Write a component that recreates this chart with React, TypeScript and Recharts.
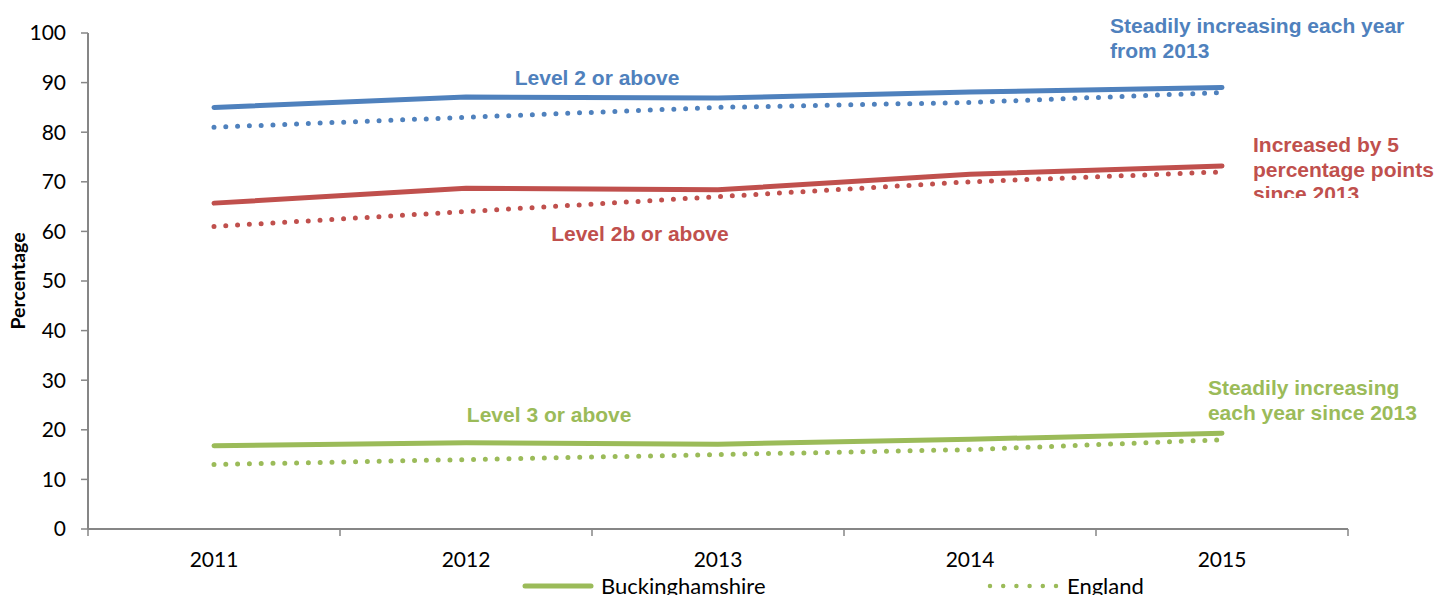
import React from "react";
import { LineChart, Line, XAxis, YAxis, Legend, ReferenceDot } from "recharts";

// Attainment at each level, Buckinghamshire vs England (% of pupils)
const YEARS = [2011, 2012, 2013, 2014, 2015];
const BUCKS_LEVEL2 = [85, 87.1, 86.9, 88.1, 89];
const ENGLAND_LEVEL2 = [81, 83, 85, 86, 88];
const BUCKS_LEVEL2B = [65.7, 68.7, 68.4, 71.5, 73.2];
const ENGLAND_LEVEL2B = [61, 64, 67, 70, 72];
const BUCKS_LEVEL3 = [16.8, 17.4, 17.1, 18.1, 19.3];
const ENGLAND_LEVEL3 = [13, 14, 15, 16, 18];

const Y_TICKS = [0, 10, 20, 30, 40, 50, 60, 70, 80, 90, 100];
// year labels sit mid-band; tick marks fall on the band edges
const X_TICKS = [2010.5, 2011, 2011.5, 2012, 2012.5, 2013, 2013.5, 2014, 2014.5, 2015, 2015.5];
const LEGEND_LABELS = ["Buckinghamshire", "England"];

const BLUE = "#4F81BD";
const RED = "#C0504D";
const GREEN = "#9BBB59";
const AXIS = "#868686";
const BODY_FONT = "Lato, 'Liberation Sans', Arial, sans-serif";
const NOTE_FONT = "'Liberation Sans', Arial, sans-serif";
const DOTTED = "0 11.8";

const data = YEARS.map((year, i) => ({
  year,
  bucksL2: BUCKS_LEVEL2[i],
  engL2: ENGLAND_LEVEL2[i],
  bucksL2b: BUCKS_LEVEL2B[i],
  engL2b: ENGLAND_LEVEL2B[i],
  bucksL3: BUCKS_LEVEL3[i],
  engL3: ENGLAND_LEVEL3[i],
}));

type Note = {
  id: string;
  x: number;
  y: number;
  lines: string[];
  color: string;
  anchor: "start" | "middle";
  clipBelow?: number;
};

const NOTES: Note[] = [
  { id: "l2", x: 2012.52, y: 89.5, lines: ["Level 2 or above"], color: BLUE, anchor: "middle" },
  { id: "l2b", x: 2012.69, y: 58.1, lines: ["Level 2b or above"], color: RED, anchor: "middle" },
  { id: "l3", x: 2012.33, y: 21.6, lines: ["Level 3 or above"], color: GREEN, anchor: "middle" },
  {
    id: "l2note",
    x: 2014.556,
    y: 100,
    lines: ["Steadily increasing each year", "from 2013"],
    color: BLUE,
    anchor: "start",
  },
  {
    id: "l2bnote",
    x: 2015.123,
    y: 76,
    lines: ["Increased by 5", "percentage points", "since 2013"],
    color: RED,
    anchor: "start",
    clipBelow: 46,
  },
  {
    id: "l3note",
    x: 2014.944,
    y: 27,
    lines: ["Steadily increasing", "each year since 2013"],
    color: GREEN,
    anchor: "start",
  },
];

function noteContent(note: Note) {
  return (props: any) => {
    const vb = props.viewBox || {};
    const x = vb.x + (vb.width || 0) / 2;
    const y = vb.y + (vb.height || 0) / 2;
    const clipId = `clip-${note.id}`;
    return (
      <g>
        {note.clipBelow != null && (
          <defs>
            <clipPath id={clipId}>
              <rect x={x - 10} y={y - 40} width={300} height={40 + note.clipBelow} />
            </clipPath>
          </defs>
        )}
        <text
          x={x}
          y={y}
          textAnchor={note.anchor}
          fill={note.color}
          fontFamily={NOTE_FONT}
          fontWeight="bold"
          fontSize={21}
          clipPath={note.clipBelow != null ? `url(#${clipId})` : undefined}
        >
          {note.lines.map((line, i) => (
            <tspan key={i} x={x} dy={i === 0 ? 0 : 24.5}>
              {line}
            </tspan>
          ))}
        </text>
      </g>
    );
  };
}

function YearTick(props: any) {
  const { x, y, payload } = props;
  const v = payload.value;
  if (!Number.isInteger(v)) {
    return <line x1={x} x2={x} y1={y} y2={y + 7} stroke={AXIS} strokeWidth={1.5} />;
  }
  return (
    <text x={x} y={y + 38} textAnchor="middle" fontSize={21} fill="#000" fontFamily={BODY_FONT}>
      {v}
    </text>
  );
}

function PercentLabel(props: any) {
  const vb = props.viewBox || { x: 0, y: 33, height: 496 };
  const cx = vb.x + 25;
  const cy = vb.y + vb.height / 2;
  return (
    <text
      x={cx}
      y={cy}
      transform={`rotate(-90 ${cx} ${cy})`}
      textAnchor="middle"
      fontFamily={BODY_FONT}
      fontWeight="bold"
      fontSize={19.5}
      fill="#000"
    >
      Percentage
    </text>
  );
}

function renderLegend() {
  return (
    <div style={{ height: 22, position: "relative" }}>
      <svg width={1438} height={22} style={{ display: "block", overflow: "visible" }}>
        <line x1={525} x2={591} y1={13} y2={13} stroke={GREEN} strokeWidth={5} strokeLinecap="round" />
        <text x={601} y={21} fontSize={22} fontFamily={BODY_FONT} fill="#000">
          {LEGEND_LABELS[0]}
        </text>
        <line
          x1={990}
          x2={1056.5}
          y1={13}
          y2={13}
          stroke={GREEN}
          strokeWidth={4.5}
          strokeLinecap="round"
          strokeDasharray="0 13.2"
        />
        <text x={1067} y={21} fontSize={22} fontFamily={BODY_FONT} fill="#000">
          {LEGEND_LABELS[1]}
        </text>
      </svg>
    </div>
  );
}

export default function App() {
  return (
    <div style={{ position: "absolute", left: 0, top: 0, width: 1438, height: 595, background: "#fff", fontFamily: BODY_FONT }}>
      <LineChart width={1438} height={595} data={data} margin={{ top: 33, right: 90, bottom: 0, left: 0 }}>
        <XAxis
          dataKey="year"
          type="number"
          domain={[2010.5, 2015.5]}
          ticks={X_TICKS}
          interval={0}
          height={44}
          tickSize={0}
          tickMargin={0}
          tickLine={false}
          tick={YearTick}
          axisLine={{ stroke: AXIS, strokeWidth: 2 }}
          allowDataOverflow
        />
        <YAxis
          type="number"
          domain={[0, 100]}
          ticks={Y_TICKS}
          interval={0}
          width={88}
          tickSize={7}
          tickMargin={15}
          tick={{ fontSize: 21, fill: "#000", fontFamily: BODY_FONT }}
          tickLine={{ stroke: AXIS, strokeWidth: 1.5 }}
          axisLine={{ stroke: AXIS, strokeWidth: 2 }}
          label={<PercentLabel />}
        />
        <Legend content={renderLegend} verticalAlign="bottom" />

        <Line dataKey="engL2" stroke={BLUE} strokeWidth={5} strokeDasharray={DOTTED} strokeLinecap="round" dot={false} activeDot={false} isAnimationActive={false} legendType="none" />
        <Line dataKey="engL2b" stroke={RED} strokeWidth={5} strokeDasharray={DOTTED} strokeLinecap="round" dot={false} activeDot={false} isAnimationActive={false} legendType="none" />
        <Line dataKey="engL3" stroke={GREEN} strokeWidth={5} strokeDasharray={DOTTED} strokeLinecap="round" dot={false} activeDot={false} isAnimationActive={false} legendType="none" />
        <Line dataKey="bucksL2" stroke={BLUE} strokeWidth={5} strokeLinecap="round" dot={false} activeDot={false} isAnimationActive={false} legendType="none" />
        <Line dataKey="bucksL2b" stroke={RED} strokeWidth={5} strokeLinecap="round" dot={false} activeDot={false} isAnimationActive={false} legendType="none" />
        <Line dataKey="bucksL3" stroke={GREEN} strokeWidth={5} strokeLinecap="round" dot={false} activeDot={false} isAnimationActive={false} legendType="none" />

        {NOTES.map((note) => (
          <ReferenceDot
            key={note.id}
            x={note.x}
            y={note.y}
            r={0}
            fill="none"
            stroke="none"
            ifOverflow="visible"
            label={noteContent(note)}
          />
        ))}
      </LineChart>
    </div>
  );
}
